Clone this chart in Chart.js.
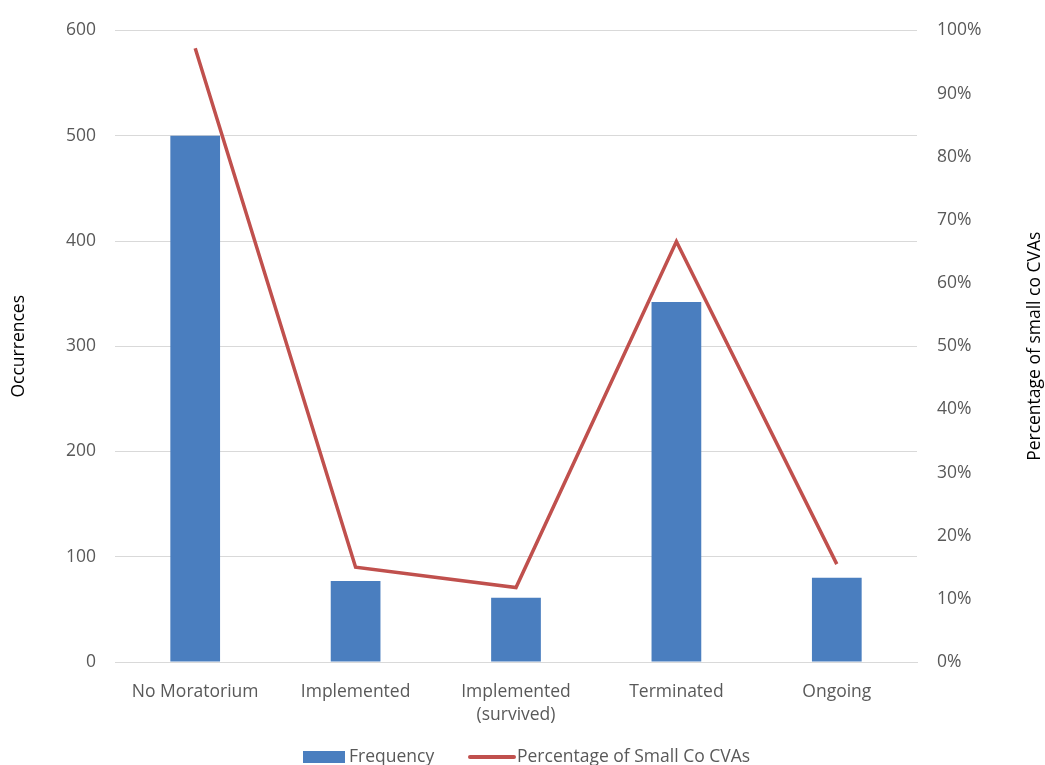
<!DOCTYPE html>
<html>
<head>
<meta charset="utf-8">
<script src="https://cdn.jsdelivr.net/npm/chart.js@4"></script>
<style>
  html, body { margin: 0; padding: 0; background: #fff; }
</style>
</head>
<body>
<canvas id="chart" width="1045" height="765"></canvas>
<script>
const categories = ['No Moratorium', 'Implemented', ['Implemented', '(survived)'], 'Terminated', 'Ongoing'];
const frequency = [500, 77, 61, 342, 80];
const smallCoPct = [97.2, 15.0, 11.8, 66.6, 15.5];
const leftTicks = [0, 100, 200, 300, 400, 500, 600];
const rightTicks = [0, 10, 20, 30, 40, 50, 60, 70, 80, 90, 100];
const leftTitle = 'Occurrences';
const rightTitle = 'Percentage of small co CVAs';

const font = "'Open Sans', sans-serif";
const fontSize = 17.5;
const tickColor = '#595959';
const gridColor = '#d9d9d9';

// axis titles and the bottom legend (partly cut off like the original)
const extras = {
  id: 'extras',
  afterDraw(chart) {
    const ctx = chart.ctx;
    const area = chart.chartArea;
    const midY = (area.top + area.bottom) / 2;
    ctx.save();
    ctx.font = fontSize + "px " + font;
    ctx.textAlign = 'center';
    ctx.textBaseline = 'middle';
    ctx.fillStyle = '#000';

    ctx.save();
    ctx.translate(19, midY);
    ctx.rotate(-Math.PI / 2);
    ctx.fillText(leftTitle, 0, 0);
    ctx.restore();

    ctx.save();
    ctx.translate(1035, midY);
    ctx.rotate(-Math.PI / 2);
    ctx.fillText(rightTitle, 0, 0);
    ctx.restore();

    const y = 757;
    ctx.textAlign = 'left';
    ctx.fillStyle = chart.data.datasets[0].backgroundColor;
    ctx.fillRect(303, 751, 42, 12);
    ctx.fillStyle = tickColor;
    ctx.fillText(chart.data.datasets[0].label, 349, y);
    ctx.strokeStyle = chart.data.datasets[1].borderColor;
    ctx.lineWidth = 4;
    ctx.lineCap = 'round';
    ctx.beginPath();
    ctx.moveTo(470, y);
    ctx.lineTo(514, y);
    ctx.stroke();
    ctx.fillText(chart.data.datasets[1].label, 517, y);
    ctx.restore();
  }
};

new Chart(document.getElementById('chart'), {
  type: 'bar',
  data: {
    labels: categories,
    datasets: [
      {
        label: 'Frequency',
        data: frequency,
        yAxisID: 'y',
        backgroundColor: '#4a7ebf',
        categoryPercentage: 1,
        barPercentage: 0.31,
        order: 1
      },
      {
        type: 'line',
        label: 'Percentage of Small Co CVAs',
        data: smallCoPct,
        yAxisID: 'y2',
        borderColor: '#c0504d',
        borderWidth: 3.5,
        pointRadius: 0,
        tension: 0,
        order: 0
      }
    ]
  },
  options: {
    responsive: false,
    animation: false,
    layout: { padding: { top: 18, left: 0, right: 0, bottom: 0 } },
    plugins: {
      legend: { display: false },
      tooltip: { enabled: false }
    },
    scales: {
      x: {
        grid: { display: false },
        border: { color: gridColor },
        ticks: { color: tickColor, font: { family: font, size: fontSize, lineHeight: 1.3 }, padding: 11, maxRotation: 0 },
        afterFit(scale) { scale.height = 103; }
      },
      y: {
        position: 'left',
        min: 0,
        max: 600,
        afterBuildTicks(scale) { scale.ticks = leftTicks.map(v => ({ value: v })); },
        grid: { color: gridColor, drawTicks: false },
        border: { display: false },
        ticks: { color: tickColor, font: { family: font, size: fontSize }, padding: 19 },
        afterFit(scale) { scale.width = 115; }
      },
      y2: {
        position: 'right',
        min: 0,
        max: 100,
        afterBuildTicks(scale) { scale.ticks = rightTicks.map(v => ({ value: v })); },
        grid: { display: false, drawTicks: false },
        border: { display: false },
        ticks: { color: tickColor, font: { family: font, size: fontSize }, padding: 20, callback: v => v + '%' },
        afterFit(scale) { scale.width = 128; }
      }
    }
  },
  plugins: [extras]
});
</script>
</body>
</html>
